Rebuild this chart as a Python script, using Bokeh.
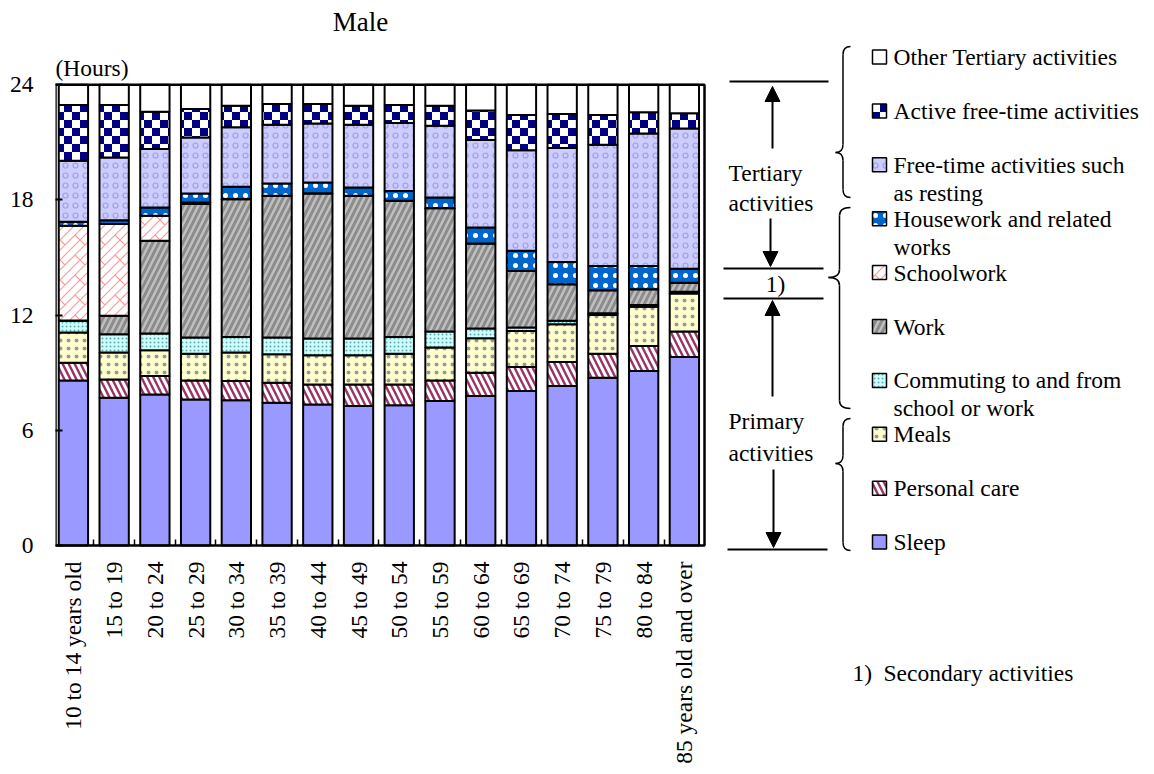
import math

from bokeh.plotting import figure
from bokeh.models import (ColumnDataSource, Range1d, FixedTicker, Arrow, NormalHead,
                          CanvasTexture)
from bokeh.core.properties import value
from bokeh.embed import file_html
from bokeh.resources import INLINE

FONT = "Liberation Serif"

# age groups (x axis)
ages = ["10 to 14 years old", "15 to 19", "20 to 24", "25 to 29", "30 to 34",
        "35 to 39", "40 to 44", "45 to 49", "50 to 54", "55 to 59", "60 to 64",
        "65 to 69", "70 to 74", "75 to 79", "80 to 84", "85 years old and over"]

# hours per day (bottom of the stack first)
sleep = [8.60, 7.70, 7.87, 7.61, 7.56, 7.44, 7.35, 7.26, 7.30, 7.53, 7.79, 8.05, 8.31, 8.74, 9.09, 9.82]
personal_care = [0.92, 0.95, 0.96, 0.99, 1.01, 1.04, 1.04, 1.13, 1.09, 1.07, 1.21, 1.25, 1.25, 1.25, 1.30, 1.32]
meals = [1.57, 1.40, 1.34, 1.39, 1.48, 1.48, 1.52, 1.52, 1.60, 1.71, 1.79, 1.87, 1.96, 2.02, 2.05, 1.98]
commuting = [0.61, 0.95, 0.87, 0.84, 0.81, 0.87, 0.87, 0.87, 0.87, 0.83, 0.51, 0.18, 0.18, 0.08, 0.09, 0.09]
work = [0.02, 0.96, 4.83, 6.95, 7.18, 7.38, 7.55, 7.43, 7.09, 6.43, 4.43, 2.95, 1.91, 1.21, 0.82, 0.48]
schoolwork = [4.93, 4.78, 1.30, 0.08, 0.01, 0.01, 0.01, 0.01, 0.01, 0.01, 0.00, 0.00, 0.00, 0.00, 0.00, 0.00]
housework = [0.21, 0.20, 0.43, 0.47, 0.63, 0.64, 0.57, 0.43, 0.51, 0.55, 0.83, 1.05, 1.16, 1.26, 1.21, 0.73]
free_time = [3.18, 3.27, 3.05, 2.92, 3.10, 3.06, 3.07, 3.27, 3.53, 3.73, 4.56, 5.24, 5.93, 6.31, 6.90, 7.30]
active = [2.90, 2.73, 1.94, 1.48, 1.13, 1.07, 1.01, 0.99, 0.94, 1.05, 1.53, 1.83, 1.77, 1.55, 1.10, 0.79]
other = [1.06, 1.06, 1.41, 1.27, 1.09, 1.01, 1.01, 1.09, 1.06, 1.09, 1.35, 1.58, 1.53, 1.58, 1.44, 1.49]

series = ["sleep", "personal_care", "meals", "commuting", "work", "schoolwork",
          "housework", "free_time", "active", "other"]
labels = ["Sleep", "Personal care", "Meals", "Commuting to and from\nschool or work", "Work",
          "Schoolwork", "Housework and related\nworks", "Free-time activities such\nas resting",
          "Active free-time activities", "Other Tertiary activities"]

y_ticks = [0, 6, 12, 18, 24]

# fill / hatch styling per series
fills = ["#9999ff", "#993366", "#ffffcc", "#ccffff", "#c0c0c0", "#ffffff",
         "#0066cc", "#ccccff", "#000080", "#ffffff"]
hatches = [" ", "\\", ".", ".", "/", value("bricks"), ".", "o", value("checker"), " "]
hatch_colors = ["white", "white", "#999999", "#66aaaa", "#8c8c8c", "#ff9999",
                "white", "#9e9ee8", "white", "white"]
hatch_scales = [12, 12, 8, 4, 12, 20, 10, 10, 16, 12]
hatch_weights = [1, 3, 1.5, 1, 3, 1, 0.7, 1.2, 1, 1]

# textures draw with fixed colours and tile size
checker = CanvasTexture(code="""
const c = ctx.canvas;
c.width = 16;
c.height = 16;
ctx.fillStyle = "#ffffff";
ctx.fillRect(0, 0, 8, 8);
ctx.fillRect(8, 8, 8, 8);
""")

bricks = CanvasTexture(code="""
const s = 20;
const c = ctx.canvas;
c.width = s;
c.height = s;
ctx.strokeStyle = "#ff9999";
ctx.lineWidth = 1.2;
ctx.beginPath();
for (let k = -1; k <= 4; k++) {
  const q = k * s / 2;
  ctx.moveTo(q + s, -s);
  ctx.lineTo(-s, q + s);
}
for (let i = -1; i <= 1; i++) {
  for (let j = -1; j <= 1; j++) {
    const ox = i * s, oy = j * s;
    ctx.moveTo(ox, oy);
    ctx.lineTo(ox + s / 4, oy + s / 4);
    ctx.moveTo(ox + 3 * s / 4, oy - s / 4);
    ctx.lineTo(ox + s, oy);
  }
}
ctx.stroke();
""")
extra = {"checker": checker, "bricks": bricks}

source = ColumnDataSource(data=dict(
    x=list(range(len(ages))), sleep=sleep, personal_care=personal_care, meals=meals,
    commuting=commuting, work=work, schoolwork=schoolwork, housework=housework,
    free_time=free_time, active=active, other=other))

# frame covers page x 55..1154 and y 0..774; 0 h sits at page y 545, 19.2 px per hour
x_lo = -0.44
x_step = 40.73
px_h = 19.2
p = figure(width=1154, height=774,
           x_range=Range1d(x_lo, x_lo + 1099 / x_step),
           y_range=Range1d(-(774 - 545) / px_h, 545 / px_h),
           output_backend="svg", toolbar_location=None, tools="",
           min_border_left=55, min_border_right=0, min_border_top=0, min_border_bottom=0)
p.extra_x_ranges = {"px": Range1d(55, 1154)}
p.extra_y_ranges = {"px": Range1d(774, 0)}
p.outline_line_color = None
p.grid.grid_line_color = None
p.background_fill_color = "white"

p.vbar_stack(series, x="x", width=0.72, source=source,
             fill_color=fills, hatch_pattern=hatches, hatch_color=hatch_colors,
             hatch_scale=hatch_scales, hatch_weight=hatch_weights, hatch_extra=extra,
             line_color="black", line_width=2)

# chart box
p.quad(left=[x_lo], right=[x_lo + 649 / x_step], bottom=[0], top=[24],
       fill_color=None, line_color="black", line_width=2.5)

p.xaxis.fixed_location = 0
p.xaxis.ticker = FixedTicker(ticks=list(range(len(ages))),
                             minor_ticks=[i + 0.5 for i in range(len(ages) - 1)])
p.xaxis.major_label_overrides = {i: lab for i, lab in enumerate(ages)}
p.xaxis.major_label_orientation = math.pi / 2
p.xaxis.major_tick_line_color = None
p.xaxis.minor_tick_in = 6
p.xaxis.minor_tick_out = 0
p.xaxis.minor_tick_line_color = "black"
p.xaxis.minor_tick_line_width = 1.5
p.xaxis.major_label_standoff = 10

p.yaxis.ticker = FixedTicker(ticks=y_ticks)
p.yaxis.major_tick_in = 7
p.yaxis.major_tick_out = 0
p.yaxis.major_tick_line_width = 2
p.yaxis.minor_tick_line_color = None
p.yaxis.major_label_standoff = 22

for ax in (p.xaxis, p.yaxis):
    ax.axis_line_color = None
    ax.major_label_text_font = FONT
    ax.major_label_text_font_size = "23.5px"
    ax.major_label_text_color = "black"

txt = dict(x_range_name="px", y_range_name="px", text_font=value(FONT),
           text_font_size="23.5px", text_color="black", text_baseline="middle")

p.text(x=[360], y=[21], text=["Male"], text_align="center",
       **{**txt, "text_font_size": "27px"})
p.text(x=[55], y=[67], text=["(Hours)"], text_align="left", **txt)

# legend, top to bottom
for i, k in enumerate(reversed(range(len(series)))):
    yc = 56.5 + 53.9 * i
    p.rect(x=[879], y=[yc], width=14, height=14, fill_color=fills[k],
           hatch_pattern=hatches[k], hatch_color=hatch_colors[k],
           hatch_scale=hatch_scales[k], hatch_weight=hatch_weights[k],
           hatch_extra=extra, line_color="black", line_width=1.5,
           x_range_name="px", y_range_name="px")
    for j, line in enumerate(labels[k].split("\n")):
        p.text(x=[893], y=[yc + 28 * j], text=[line], text_align="left", **txt)

# tertiary / secondary / primary markers
p.segment(x0=[729, 723, 723, 727], y0=[81, 268, 298, 549],
          x1=[828, 823, 823, 827], y1=[81, 268, 298, 549],
          line_color="black", line_width=2, x_range_name="px", y_range_name="px")
for xs, ys, xe, ye in [(772, 148, 772, 86), (770, 218, 770, 266),
                       (772, 396, 772, 300), (773, 469, 773, 547)]:
    p.add_layout(Arrow(end=NormalHead(size=15, fill_color="black", line_color="black"),
                       x_start=xs, y_start=ys, x_end=xe, y_end=ye, line_color="black",
                       line_width=2, x_range_name="px", y_range_name="px"))
p.text(x=[728, 728], y=[172, 202], text=["Tertiary", "activities"], text_align="left", **txt)
p.text(x=[775], y=[283], text=["1)"], text_align="center", **txt)
p.text(x=[728, 728], y=[420, 452], text=["Primary", "activities"], text_align="left", **txt)
p.text(x=[852, 883], y=[672, 672], text=["1)", "Secondary activities"], text_align="left", **txt)


def brace(x_arm, x_tip, y_top, y_bot, y_tip, r=8):
    xm = (x_arm + x_tip) / 2
    p.quadratic(x0=[x_arm, xm, x_tip, xm], y0=[y_top, y_tip - r, y_tip, y_bot - r],
                x1=[xm, x_tip, xm, x_arm], y1=[y_top + r, y_tip, y_tip + r, y_bot],
                cx=[xm, xm, xm, xm], cy=[y_top, y_tip, y_tip, y_bot],
                line_color="black", line_width=1.5, x_range_name="px", y_range_name="px")
    p.segment(x0=[xm, xm], y0=[y_top + r, y_tip + r], x1=[xm, xm], y1=[y_tip - r, y_bot - r],
              line_color="black", line_width=1.5, x_range_name="px", y_range_name="px")


brace(850, 835, 46, 197, 152)
brace(850, 828, 207, 408, 277)
brace(850, 835, 418, 550, 463)

open("out.html", "w").write(file_html(p, INLINE))
